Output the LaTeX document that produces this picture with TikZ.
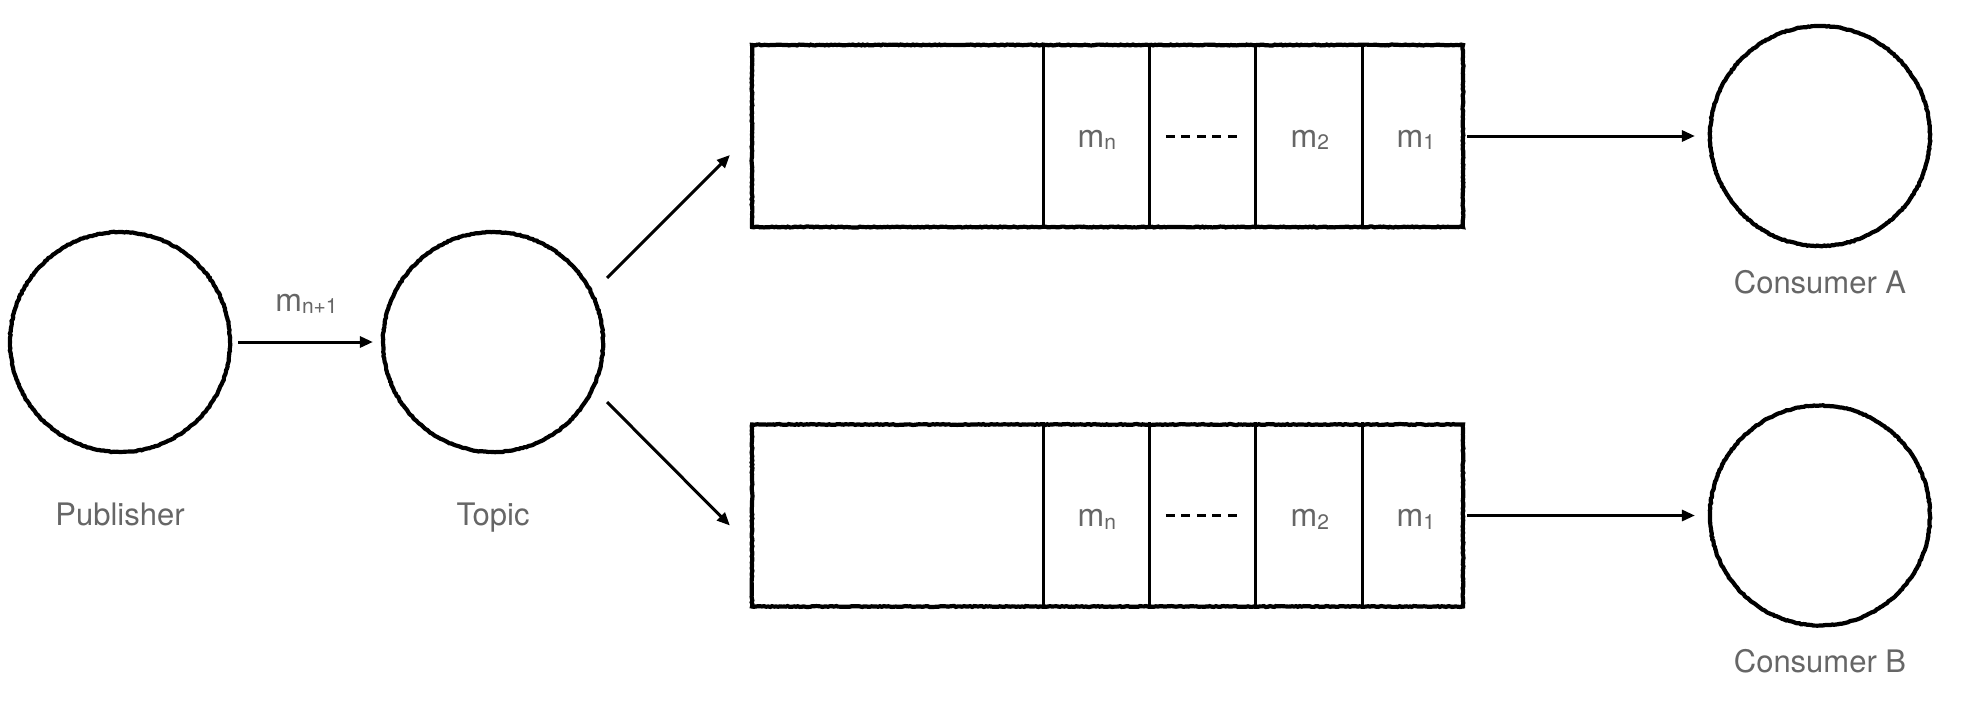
\documentclass[tikz,border=0pt]{standalone}
\usepackage{fontspec}
\setmainfont{TeX Gyre Heros}
\usetikzlibrary{arrows.meta,calc,decorations.pathmorphing}
\definecolor{txtgray}{RGB}{102,102,102}
\newcommand{\msub}[1]{m\raisebox{-0.08em}{\fontsize{21}{24}\selectfont #1}}
\begin{document}
\begin{tikzpicture}[x=1pt,y=-1pt,
  rough/.style={decorate,decoration={random steps,segment length=2pt,amplitude=0.45pt}},
  circ/.style={circle,draw=black,line width=4.2pt,minimum size=220pt,inner sep=0pt,rough},
  lbl/.style={text=txtgray,font=\fontsize{31}{36}\selectfont,inner sep=0pt,anchor=base},
  mlbl/.style={text=txtgray,font=\fontsize{32}{36}\selectfont,inner sep=0pt,anchor=base},
  queue/.style={rectangle,draw=black,line width=4.2pt,minimum width=711pt,minimum height=182pt,inner sep=0pt,rough},
  divider/.style={line width=3pt},
  arr/.style={line width=3pt,-{Triangle[length=13pt,width=11pt]}},
  dotline/.style={line width=3pt,dash pattern=on 9pt off 6.5pt}]
\pgfmathsetseed{7}
\useasboundingbox (0,0) rectangle (1966,718);

% circles
\node[circ] (pub) at (120,342) {};
\node[circ] (topic) at (493,342) {};
\node[circ] (cA) at (1820,136) {};
\node[circ] (cB) at (1820,515.5) {};

% circle labels
\node[lbl] (publbl) at ($(pub)+(0,183)$) {Publisher};
\node[lbl] (topiclbl) at ($(topic)+(0,183)$) {Topic};
\node[lbl] (cAlbl) at ($(cA)+(0,157)$) {Consumer A};
\node[lbl] (cBlbl) at ($(cB)+(0,157)$) {Consumer B};

% queues
\node[queue] (qA) at (1107.5,136) {};
\node[queue] (qB) at (1107.5,515.5) {};

\foreach \q in {qA,qB}{
  \foreach \dx in {294,400,506,613}{
    \draw[divider] ($(\q.north west)+(\dx,0)$) -- ($(\q.south west)+(\dx,0)$);
  }
  \node[mlbl] (\q-mn) at ($(\q.west)+(347,11)$) {\msub{n}};
  \node[mlbl] (\q-m2) at ($(\q.west)+(560,11)$) {\msub{2}};
  \node[mlbl] (\q-m1) at ($(\q.west)+(666,11)$) {\msub{1}};
  \coordinate (\q-d1) at ($(\q.west)+(416,0)$);
  \coordinate (\q-d2) at ($(\q.west)+(487,0)$);
  \draw[dotline] (\q-d1) -- (\q-d2);
}

% connectors
\draw[arr,shorten <=6pt,shorten >=8pt] (pub) -- (topic);
\node[mlbl] (mn1) at ($(pub)!0.5!(topic)+(0,-31)$) {\msub{n+1}};

\coordinate (tA) at ($(topic.center)+(114,-64)$);
\coordinate (qAin) at ($(qA.west)+(-20,19)$);
\draw[arr] (tA) -- (qAin);
\coordinate (tB) at ($(topic.center)+(114,60)$);
\coordinate (qBin) at ($(qB.west)+(-20,10)$);
\draw[arr] (tB) -- (qBin);

\draw[arr,shorten <=2pt,shorten >=13pt] (qA.east) -- (cA.west);
\draw[arr,shorten <=2pt,shorten >=13pt] (qB.east) -- (cB.west);
\end{tikzpicture}
\end{document}
